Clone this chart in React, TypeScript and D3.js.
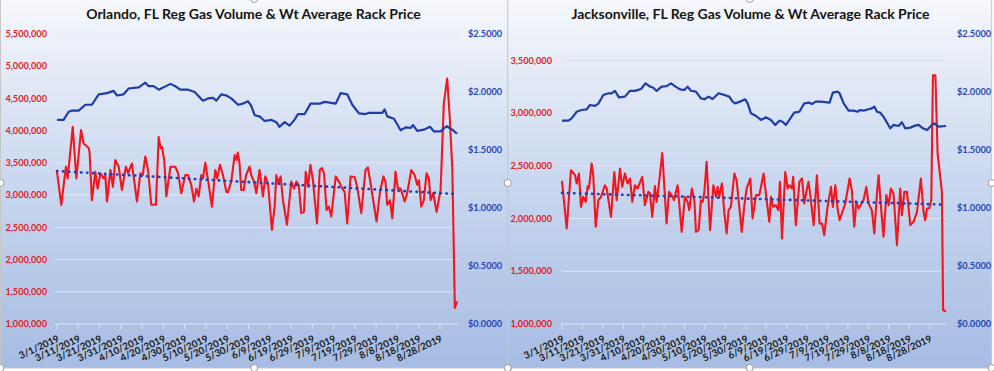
import React from "react"
import * as d3 from "d3"

// category labels on the x axis, one every 10 days from 3/1/2019
const dateLabels = [
  "3/1/2019", "3/11/2019", "3/21/2019", "3/31/2019", "4/10/2019", "4/20/2019",
  "4/30/2019", "5/10/2019", "5/20/2019", "5/30/2019", "6/9/2019", "6/19/2019",
  "6/29/2019", "7/9/2019", "7/19/2019", "7/29/2019", "8/8/2019", "8/18/2019", "8/28/2019",
]

// [days since 3/1/2019, thousand gallons]
const orlandoVolume = [
  [0, 3360], [2, 2850], [4.2, 3440], [5, 3260], [7.4, 4060], [9.1, 3260], [11.3, 4010], [12.5, 3800],
  [14.9, 3730], [15.3, 3670], [16.4, 2920], [18, 3360], [19.1, 3100], [20.4, 3340], [21.9, 3260],
  [22.7, 3310], [23.5, 2900], [25.1, 3390], [26.3, 3130], [27.4, 3545], [29, 3440], [30.5, 3080],
  [32.4, 3440], [33.4, 3340], [35.2, 3490], [36, 3290], [37.6, 2900], [39.2, 3340], [40.3, 3310],
  [41.5, 3600], [42.8, 3390], [44.3, 2850], [46.5, 2850], [47.8, 3900], [48.7, 3730], [49.3, 3750],
  [50.4, 3545], [51.4, 2980], [53.3, 3440], [55.6, 3440], [56.9, 3340], [58.4, 3030], [60.3, 3310],
  [61.6, 3310], [63.1, 3160], [64.4, 2900], [65.5, 3100], [66.6, 2980], [67.8, 3310], [68.6, 3260],
  [69.7, 3500], [71, 3230], [72.8, 2820], [74.4, 3390], [75.3, 3260], [76.6, 3470], [78, 3310],
  [79.6, 3050], [80.4, 3050], [81.9, 3210], [83.5, 3620], [84.3, 3545], [85, 3660], [85.8, 3490],
  [86.6, 3080], [87.7, 3080], [88.9, 3310], [90.5, 3440], [91.3, 3310], [92.6, 3210], [93.7, 3030],
  [95.2, 3390], [96.8, 2980], [97.9, 3290], [99.2, 3180], [101, 2460], [102.3, 2820], [103.1, 3310],
  [104.2, 3180], [105.1, 3290], [106.2, 2920], [108.1, 2540], [110.1, 3210], [111.4, 3100],
  [112.5, 3210], [113.6, 3160], [114.8, 2720], [116.1, 2740], [116.9, 3360], [118, 3130], [119.1, 3470],
  [120.3, 3230], [122.2, 2560], [123.5, 3390], [124.5, 3420], [125.5, 3340], [126.7, 2770],
  [127.8, 2820], [128.9, 2670], [131, 3290], [132.5, 3210], [134.1, 3100], [135.2, 3050], [136.4, 2560],
  [138, 3290], [139.9, 3280], [141.1, 3130], [143, 2720], [145, 3390], [146.1, 3430], [147.4, 3180],
  [148.6, 2920], [150.2, 2590], [151.8, 3050], [153.4, 3290], [154.4, 3210], [155.2, 2850],
  [156.5, 2920], [157.6, 2640], [159.1, 3360], [160.2, 3100], [161.5, 3100], [163.4, 2900],
  [164.6, 3030], [166.5, 3390], [168.1, 3310], [169.3, 3160], [170.1, 3230], [171.2, 2820],
  [172.4, 2920], [173.7, 3340], [174.8, 3260], [175.6, 2920], [176.8, 3030], [178.4, 2740],
  [180.3, 3080], [181.8, 4420], [183.4, 4810], [184.6, 4200], [185.8, 3400], [187, 1250], [188, 1350],
]

// [days since 3/1/2019, $ per gallon]
const orlandoPrice = [
  [0, 1.76], [3.1, 1.76], [5.5, 1.83], [7, 1.84], [10.2, 1.84], [13.3, 1.89], [16.4, 1.89], [19.6, 1.98],
  [23.5, 1.99], [26.6, 2.01], [28.2, 1.97], [31.3, 1.98], [33.7, 2.03], [38.4, 2.04], [41.5, 2.08],
  [43.1, 2.05], [45.4, 2.05], [47.8, 2.02], [50.1, 2.04], [53.3, 2.07], [55.6, 2.05], [57.9, 2.02],
  [61.6, 2.02], [64.7, 2.0], [68.6, 1.925], [71, 1.945], [73.3, 1.95], [74.9, 1.925], [77.2, 1.98],
  [79.6, 1.97], [81.9, 1.945], [85.1, 1.89], [87.4, 1.9], [89.8, 1.92], [91.3, 1.88], [92.9, 1.8],
  [95.2, 1.79], [97.6, 1.75], [100.7, 1.76], [103.1, 1.74], [104.6, 1.7], [107, 1.74], [109.3, 1.71],
  [111.6, 1.76], [113.3, 1.81], [116.4, 1.81], [119.2, 1.9], [123.5, 1.9], [125.8, 1.915], [131, 1.9],
  [133.3, 1.99], [136.4, 1.98], [138.8, 1.89], [141.9, 1.815], [145, 1.81], [146.6, 1.82], [152.9, 1.82],
  [154, 1.85], [155.2, 1.79], [158.4, 1.77], [161.5, 1.67], [163.9, 1.695], [166.2, 1.69], [167.4, 1.715],
  [169.3, 1.665], [172.4, 1.675], [175.3, 1.7], [177.2, 1.66], [180.3, 1.66], [183.1, 1.705],
  [185.8, 1.675], [188, 1.64],
]

// linear trend of the volume series, start and end
const orlandoTrend = [[0, 3374], [187, 3017]]

const jaxVolume = [
  [0, 2357], [2.3, 1906], [4.4, 2458], [6.4, 2411], [7.2, 2332], [8.3, 2427], [9.3, 2111], [10.4, 2206],
  [11.6, 2158], [12.6, 2307], [13.2, 2285], [14.5, 2522], [15.3, 2411], [16.5, 1922], [17.8, 2174],
  [19.1, 2206], [21, 2316], [21.9, 2285], [24, 2016], [25.6, 2442], [26.8, 2174], [28.4, 2474],
  [29.5, 2300], [30.8, 2427], [32.1, 2332], [33.3, 2380], [34.4, 2158], [35.7, 2316], [37, 2285],
  [39.3, 2395], [40.6, 2127], [42.3, 2253], [43.1, 2237], [44.2, 2016], [45.5, 2307], [46.3, 2158],
  [47.2, 2285], [49.1, 2622], [51.2, 1953], [52.4, 2253], [53.7, 2222], [54.8, 2174], [56.6, 2316],
  [58.6, 1874], [60.2, 2206], [61.5, 2158], [62.3, 2080], [63.6, 2285], [64.8, 2174], [65.6, 1874],
  [66.9, 1890], [68, 2174], [68.9, 2158], [69.7, 2253], [70.8, 2537], [72.5, 1890], [74.1, 2316],
  [75.4, 2206], [76.2, 2300], [77, 2206], [78.3, 2332], [79.5, 2048], [80.6, 1859], [81.6, 2080],
  [82.7, 2111], [84.4, 2427], [85.5, 2360], [86.8, 2111], [88, 1874], [89.2, 2111], [90.4, 2285],
  [92.2, 2380], [93.3, 2001], [95, 2222], [96.6, 2222], [98.7, 2427], [100.2, 2174], [101.5, 1969],
  [102.3, 2206], [103.4, 2111], [104.7, 2127], [105.9, 2080], [106.7, 2348], [107.7, 1811],
  [109.3, 2442], [110.5, 2285], [111.3, 2316], [112.6, 2285], [113.2, 2395], [114.5, 1938],
  [116.2, 2348], [117.5, 2380], [118.6, 2143], [119.8, 2269], [120.7, 2348], [121.4, 2253],
  [123.2, 1938], [124.8, 2411], [126.1, 1953], [127.3, 1953], [128.4, 1843], [130, 2111], [131.7, 2300],
  [132.6, 2111], [133.8, 2316], [134.9, 2095], [135.9, 1985], [137, 2048], [138.7, 2143], [140.8, 2380],
  [141.9, 2269], [143.1, 1922], [144.1, 2158], [145.2, 2095], [147.6, 2174], [149, 2300], [150.1, 2143],
  [151.7, 2080], [152.9, 1859], [154.2, 2237], [155, 2411], [156.1, 2127], [157.4, 1827], [158.8, 2222],
  [160, 2127], [161, 2285], [162.3, 2237], [164, 1748], [165.6, 2285], [166.4, 2032], [167.6, 2253],
  [168.9, 2253], [170.5, 1938], [172.1, 1969], [173.8, 2064], [175.7, 2380], [177, 2064], [177.8, 1985],
  [178.7, 2095], [179.8, 2095], [180.8, 2174], [181.6, 3358], [182.8, 3358], [183.9, 2616], [186, 2253],
  [186.6, 1130], [188, 1120],
]

const jaxPrice = [
  [0, 1.753], [3.1, 1.753], [4.7, 1.773], [7.2, 1.83], [9.6, 1.845], [12.1, 1.85], [13.7, 1.888],
  [16.2, 1.88], [17.8, 1.9], [20.2, 1.974], [22.7, 1.989], [24.3, 1.989], [25.9, 2.009], [27.9, 1.954],
  [30.8, 1.96], [33.3, 2.01], [35.7, 2.01], [38.7, 2.026], [40.9, 2.075], [43.1, 2.046], [44.7, 2.037],
  [46.3, 2.009], [48.8, 2.046], [51.2, 2.05], [53.4, 2.075], [55.6, 2.046], [57.8, 2.023], [59.9, 2.017],
  [61.5, 2.046], [63.1, 2.011], [65.6, 2.003], [68, 1.945], [69.7, 1.937], [71.8, 1.96], [73.7, 1.94],
  [76.7, 1.989], [79.5, 1.974], [81.9, 1.96], [83.5, 1.917], [84.8, 1.902], [87.1, 1.917], [89.7, 1.937],
  [90.9, 1.902], [92.5, 1.816], [95, 1.793], [97.4, 1.759], [99.8, 1.782], [102.3, 1.759], [104.4, 1.716],
  [106.4, 1.753], [108, 1.744], [109.6, 1.716], [111.3, 1.759], [113.7, 1.822], [116.2, 1.83],
  [118.6, 1.902], [121.1, 1.908], [122.3, 1.897], [124.3, 1.917], [126.8, 1.917], [131, 1.908],
  [132.6, 1.994], [134.9, 2.003], [135.9, 1.989], [137.9, 1.902], [140.3, 1.839], [142.8, 1.839],
  [144.7, 1.83], [146, 1.845], [147.6, 1.839], [150.1, 1.851], [151.7, 1.859], [152.9, 1.874],
  [154.2, 1.83], [155.8, 1.822], [157.4, 1.787], [160.7, 1.687], [162.3, 1.716], [164.8, 1.707],
  [166.4, 1.739], [168, 1.687], [170.5, 1.693], [172.9, 1.71], [174.6, 1.716], [176.7, 1.687],
  [178.7, 1.672], [181.1, 1.716], [182.3, 1.73], [184.4, 1.701], [188, 1.707],
]

const jaxTrend = [[0, 2243], [186, 2133]]

const orlandoVolTicks = [1000, 1500, 2000, 2500, 3000, 3500, 4000, 4500, 5000, 5500]
const jaxVolTicks = [1000, 1500, 2000, 2500, 3000, 3500]
const priceTicks = [0, 0.5, 1, 1.5, 2, 2.5]

const TOP = 34
const BOTTOM = 324
const LAST_DAY = 188
const FONT = "Lato, 'Open Sans', sans-serif"

function Panel(props: any) {
  const { title, volume, price, trend, volTicks, volMax, boxX, boxW, xStart, xEnd, plotL, plotR, leftLabelX, rightLabelX, titleX } = props

  const x = d3.scaleLinear().domain([0, LAST_DAY]).range([xStart, xEnd])
  const yVol = d3.scaleLinear().domain([1000, volMax]).range([BOTTOM, TOP])
  const yPrice = d3.scaleLinear().domain([0, 2.5]).range([BOTTOM, TOP])

  const volLine = d3.line<number[]>().x(d => x(d[0])).y(d => yVol(d[1]))
  const priceLine = d3.line<number[]>().x(d => x(d[0])).y(d => yPrice(d[1]))
  const fmtVol = d3.format(",")

  return (
    <g>
      <rect x={boxX} y={-2} width={boxW} height={370} fill="url(#chartBg)" stroke="#c6c6c6" strokeWidth={1} />
      <text x={titleX} y={19} textAnchor="middle" fontFamily={FONT} fontWeight="bold" fontSize={14} fill="#151515">
        {title}
      </text>

      {/* gridlines */}
      {volTicks.map((t: number) => (
        <line key={"g" + t} x1={plotL} x2={plotR} y1={yVol(t)} y2={yVol(t)} stroke="#dfe6f4" strokeWidth={1} />
      ))}

      {/* left axis (volume) */}
      {volTicks.map((t: number) => (
        <text key={"l" + t} x={leftLabelX} y={yVol(t)} dy="0.35em" textAnchor="end" fontFamily={FONT}
          fontWeight="bold" fontSize={9.2} fill="#e01c26">
          {fmtVol(t * 1000)}
        </text>
      ))}

      {/* right axis (price) */}
      {priceTicks.map(t => (
        <text key={"r" + t} x={rightLabelX} y={yPrice(t)} dy="0.35em" textAnchor="start" fontFamily={FONT}
          fontWeight="bold" fontSize={9.2} fill="#2846b4">
          {"$" + t.toFixed(4)}
        </text>
      ))}

      {/* date ticks and labels */}
      {dateLabels.map((lab, i) => (
        <g key={lab}>
          <line x1={x(i * 10)} x2={x(i * 10)} y1={BOTTOM} y2={BOTTOM + 5} stroke="#dfe6f4" strokeWidth={1} />
          <text transform={`translate(${x(i * 10) + 3},${341}) rotate(-25)`} textAnchor="end"
            fontFamily={FONT} fontWeight="bold" fontSize={9.8} fill="#1a1a1a">
            {lab}
          </text>
        </g>
      ))}

      <path d={volLine(volume) || ""} fill="none" stroke="#f2161f" strokeWidth={2.1} strokeLinejoin="round" />
      <path d={priceLine(price) || ""} fill="none" stroke="#1f3da6" strokeWidth={2.2} strokeLinejoin="round" />
      <path d={volLine(trend) || ""} fill="none" stroke="#2342b0" strokeWidth={2.6}
        strokeDasharray="0.5 5.5" strokeLinecap="round" />
    </g>
  )
}

function Handles({ x0, x1 }: { x0: number; x1: number }) {
  const mx = (x0 + x1) / 2
  const pts = [[x0, 183], [x1, 183], [mx, -1], [mx, 368], [x0, 368], [x1, 368]]
  return (
    <g>
      {pts.map((p, i) => (
        <circle key={i} cx={p[0]} cy={p[1]} r={3.5} fill="#ffffff" stroke="#9c9c9c" strokeWidth={1} />
      ))}
    </g>
  )
}

export default function App() {
  return (
    <svg width={994} height={371} style={{ position: "absolute", left: 0, top: 0, background: "#ffffff" }}>
      <defs>
        <linearGradient id="chartBg" x1="0" y1="0" x2="0" y2="1">
          <stop offset="0" stopColor="#f6f8fc" />
          <stop offset="0.5" stopColor="#c9d7ef" />
          <stop offset="1" stopColor="#a6bce3" />
        </linearGradient>
      </defs>
      <Panel
        title="Orlando, FL Reg Gas Volume & Wt Average Rack Price"
        volume={orlandoVolume} price={orlandoPrice} trend={orlandoTrend}
        volTicks={orlandoVolTicks} volMax={5500}
        boxX={0.5} boxW={507.5} xStart={57} xEnd={457} plotL={55} plotR={458}
        leftLabelX={47} rightLabelX={468} titleX={253.5}
      />
      <Handles x0={0.5} x1={508} />
      <Panel
        title="Jacksonville, FL Reg Gas Volume & Wt Average Rack Price"
        volume={jaxVolume} price={jaxPrice} trend={jaxTrend}
        volTicks={jaxVolTicks} volMax={3750}
        boxX={507.7} boxW={484} xStart={562} xEnd={946} plotL={561} plotR={946}
        leftLabelX={552} rightLabelX={957} titleX={750.5}
      />
      <Handles x0={507.7} x1={991.7} />
    </svg>
  )
}
